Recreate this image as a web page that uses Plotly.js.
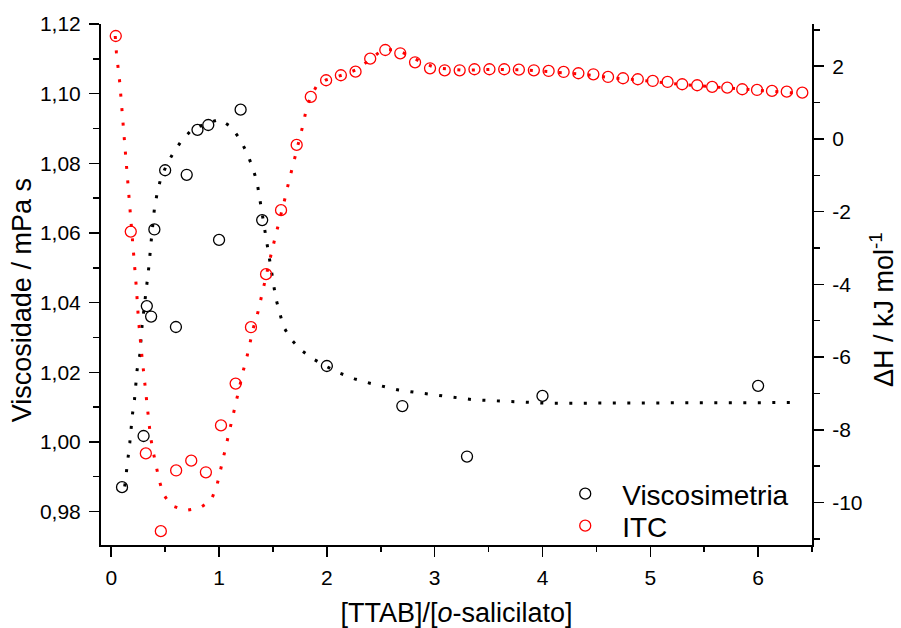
<!DOCTYPE html>
<html><head><meta charset="utf-8">
<script src="https://cdn.plot.ly/plotly-3.0.1.min.js"></script>
<style>html,body{margin:0;padding:0;background:#fff}#chart{width:901px;height:628px}</style>
</head><body><div id="chart"></div>
<script>
// Viscosimetria (left axis, mPa s)
const viscX = [0.1, 0.3, 0.33, 0.37, 0.4, 0.5, 0.6, 0.7, 0.8, 0.9, 1.0, 1.2, 1.4, 2.0, 2.7, 3.3, 4.0, 6.0];
const viscY = [0.987, 1.0017, 1.039, 1.036, 1.061, 1.078, 1.033, 1.0767, 1.0896, 1.091, 1.058, 1.0954, 1.0637, 1.0218, 1.0103, 0.9958, 1.0132, 1.0161];
// dotted fit through viscosity
const viscFitX = [0.125,0.141,0.156,0.172,0.197,0.216,0.240,0.265,0.286,0.318,0.349,0.374,0.401,0.426,0.457,0.513,0.574,0.652,0.745,0.885,1.008,1.111,1.194,1.257,1.309,1.352,1.374,1.399,1.417,1.442,1.467,1.485,1.504,1.526,1.559,1.597,1.668,1.758,1.875,2.0,2.124,2.257,2.393,2.526,2.665,2.805,2.944,3.078,3.217,3.357,3.496,3.775,4.054,5.0,6.306];
const viscFitY = [0.9872,0.9912,0.9953,0.9997,1.0080,1.0123,1.0207,1.0250,1.0334,1.0419,1.0503,1.0588,1.0671,1.0714,1.0754,1.0795,1.0829,1.0865,1.0896,1.0915,1.0926,1.0905,1.0869,1.0831,1.0790,1.0747,1.0706,1.0664,1.0621,1.0580,1.0537,1.0496,1.0456,1.0413,1.0371,1.0331,1.0295,1.0264,1.0238,1.0216,1.0197,1.0181,1.0169,1.0159,1.0149,1.0143,1.0137,1.0132,1.0125,1.0121,1.0119,1.0115,1.0111,1.0112,1.0113];
// ITC (right axis, kJ/mol)
const itcX = [0.042,0.181,0.321,0.460,0.602,0.742,0.878,1.018,1.154,1.296,1.436,1.575,1.72,1.851,1.993,2.130,2.266,2.402,2.542,2.681,2.818,2.957,3.093,3.232,3.369,3.508,3.645,3.781,3.920,4.057,4.196,4.333,4.472,4.608,4.747,4.884,5.023,5.160,5.296,5.435,5.574,5.714,5.853,5.990,6.129,6.266,6.41];
const itcY = [2.83,-2.55,-8.65,-10.79,-9.12,-8.85,-9.17,-7.88,-6.73,-5.18,-3.72,-1.96,-0.165,1.154,1.613,1.750,1.849,2.206,2.445,2.354,2.107,1.942,1.887,1.887,1.915,1.915,1.915,1.904,1.887,1.868,1.841,1.805,1.777,1.703,1.668,1.640,1.593,1.566,1.503,1.475,1.429,1.409,1.365,1.346,1.319,1.299,1.272];
const itcFitX = [0.037,0.048,0.079,0.100,0.123,0.144,0.165,0.188,0.212,0.234,0.252,0.277,0.305,0.330,0.364,0.388,0.414,0.444,0.481,0.553,0.686,0.816,0.925,0.978,1.008,1.039,1.071,1.101,1.132,1.164,1.194,1.225,1.259,1.290,1.318,1.357,1.387,1.422,1.480,1.513,1.547,1.582,1.612,1.643,1.678,1.712,1.745,1.775,1.805,1.845,1.913,1.991,2.170,2.279,2.396,2.511,2.635,2.758,2.883,3.016,3.269,3.543,3.822,4.091,4.370,4.649,4.928,5.197,5.469,5.748,6.027,6.299,6.415];
const itcFitY = [2.83,2.37,1.55,0.74,-0.08,-0.90,-1.70,-2.53,-3.33,-4.13,-4.95,-5.76,-6.57,-7.38,-8.19,-8.59,-8.98,-9.38,-9.76,-10.08,-10.22,-10.16,-9.95,-9.56,-9.18,-8.77,-8.37,-7.96,-7.56,-7.15,-6.76,-6.37,-5.99,-5.60,-5.20,-4.81,-4.40,-4.00,-3.21,-2.80,-2.42,-2.02,-1.63,-1.23,-0.83,-0.44,-0.04,0.34,0.75,1.13,1.50,1.62,1.78,1.91,2.17,2.44,2.46,2.30,2.10,1.95,1.89,1.91,1.90,1.85,1.78,1.68,1.61,1.52,1.46,1.38,1.32,1.27,1.26];
// tick labels
const dhTickVals = [-10,-8,-6,-4,-2,0,2];
const dhTickText = ["-10","-8","-6","-4","-2","0","2"];
const seriesNames = ["Viscosimetria","ITC"];
const titles = {x:'[TTAB]/[<i>o</i>-salicilato]', y:'Viscosidade / mPa s', y2:'ΔH / kJ mol<sup>-1</sup>'};

const FONT = "Liberation Sans, Arial, Helvetica, sans-serif";
const xr = [-0.095, 6.5];
const dotted = "3px,11.5px";

const traces = [
  {x: viscFitX, y: viscFitY, type:'scatter', mode:'lines', line:{color:'#000', width:3, dash:dotted}, showlegend:false, hoverinfo:'skip'},
  {x: itcFitX, y: itcFitY, yaxis:'y2', type:'scatter', mode:'lines', line:{color:'#ff0000', width:3, dash:dotted}, showlegend:false, hoverinfo:'skip'},
  {x: viscX, y: viscY, type:'scatter', mode:'markers', name: seriesNames[0], legend:'legend', marker:{symbol:'circle-open', size:11, color:'#000', line:{width:1.3, color:'#000'}}},
  {x: itcX, y: itcY, yaxis:'y2', type:'scatter', mode:'markers', name: seriesNames[1], legend:'legend2', marker:{symbol:'circle-open', size:11, color:'#ff0000', line:{width:1.3, color:'#ff0000'}}}
];

const axBase = {showgrid:false, zeroline:false, showline:true, linecolor:'#000', linewidth:2, tickcolor:'#000', tickwidth:1.5};
const legBase = {xanchor:'left', yanchor:'top', font:{size:28, family:FONT, color:'#000'}, itemwidth:64, bgcolor:'rgba(0,0,0,0)', borderwidth:0, tracegroupgap:0};

const layout = {
  width:901, height:628,
  margin:{l:101, r:89, t:24, b:83, pad:0},
  paper_bgcolor:'#fff', plot_bgcolor:'#fff',
  separators:', ',
  font:{family:FONT, color:'#000', size:21},
  showlegend:true,
  legend:Object.assign({}, legBase, {x:0.629, y:0.146}),
  legend2:Object.assign({}, legBase, {x:0.629, y:0.0845}),
  xaxis:Object.assign({}, axBase, {range:xr, tick0:0, dtick:1, ticks:'outside', ticklen:10, ticklabelstandoff:3,
    minor:{dtick:0.5, ticks:'outside', ticklen:5, tickwidth:1.5, tickcolor:'#000'},
    tickfont:{size:21}, title:{text:titles.x, font:{size:27}, standoff:20}}),
  xaxis2:Object.assign({}, axBase, {overlaying:'x', side:'top', anchor:'y', range:xr, tick0:0, dtick:1, ticks:'inside', ticklen:10,
    showticklabels:false, minor:{dtick:0.5, ticks:'inside', ticklen:6, tickwidth:1.5, tickcolor:'#000'}}),
  yaxis:Object.assign({}, axBase, {range:[0.9704, 1.12], tick0:0.98, dtick:0.02, tickformat:'.2f', ticks:'outside', ticklen:10, ticklabelstandoff:4,
    minor:{dtick:0.01, tick0:0.98, ticks:'outside', ticklen:6, tickwidth:1.5, tickcolor:'#000'},
    tickfont:{size:21}}),
  yaxis2:Object.assign({}, axBase, {overlaying:'y', side:'right', anchor:'x', range:[-11.17, 3.16], tickmode:'array', tickvals:dhTickVals, ticktext:dhTickText,
    ticks:'outside', ticklen:10, ticklabelstandoff:4,
    minor:{tickmode:'linear', tick0:0, dtick:1, ticks:'outside', ticklen:6, tickwidth:1.5, tickcolor:'#000'},
    tickfont:{size:21}}),
  annotations:[
    {text:titles.y, xref:'paper', yref:'paper', x:-0.111, y:0.47, xanchor:'center', yanchor:'middle', textangle:-90, showarrow:false, font:{size:27, family:FONT, color:'#000'}},
    {text:titles.y2, xref:'paper', yref:'paper', x:1.0985, y:0.451, xanchor:'center', yanchor:'middle', textangle:-90, showarrow:false, font:{size:27, family:FONT, color:'#000'}}
  ]
};

Plotly.newPlot('chart', traces, layout, {displayModeBar:false, staticPlot:true});
</script>
</body></html>
